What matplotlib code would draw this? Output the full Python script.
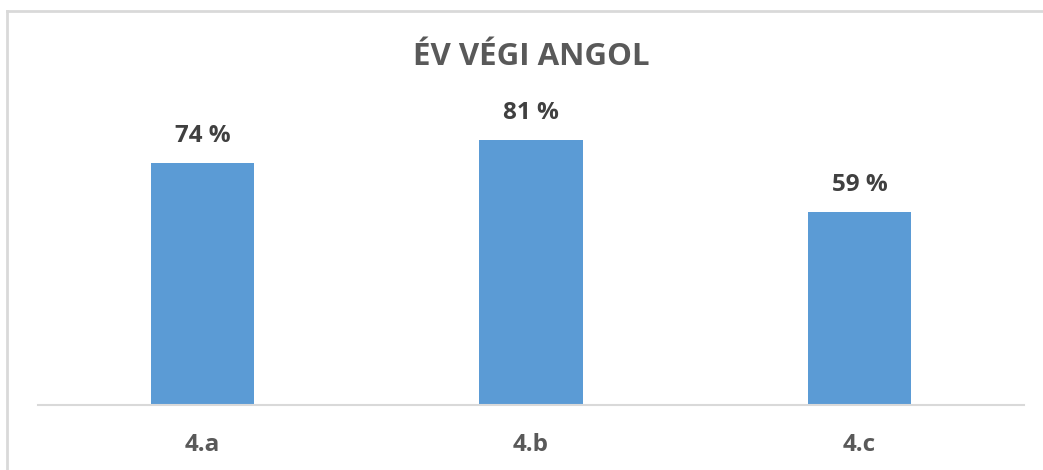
import matplotlib
matplotlib.use("Agg")
import matplotlib.pyplot as plt
from matplotlib.lines import Line2D

categories = ["4.a", "4.b", "4.c"]
values = [74, 81, 59]
title = "ÉV VÉGI ANGOL"

W, H = 1043, 470
fig = plt.figure(figsize=(W / 100, H / 100), dpi=100)
plt.rcParams['font.family'] = ['Open Sans', 'DejaVu Sans']

# outer border (top and left visible)
fig.add_artist(Line2D([7 / W, 7 / W], [0, 1 - 11 / H], color="#D9D9D9", lw=2, transform=fig.transFigure))
fig.add_artist(Line2D([7 / W, 1], [1 - 11 / H, 1 - 11 / H], color="#D9D9D9", lw=2, transform=fig.transFigure))

ax = fig.add_axes([38 / W, (H - 405) / H, 986 / W, (405 - 78) / H])
x = range(len(categories))
bars = ax.bar(x, values, width=0.315, color="#5B9BD5", zorder=2)
ax.set_xlim(-0.5, len(categories) - 0.5)
ax.set_ylim(0, 100)

for xi, v in zip(x, values):
    ax.annotate(f"{v} %", (xi, v), xytext=(0, 11), textcoords="offset points",
                ha="center", va="bottom", fontsize=17.5, fontweight="bold", color="#404040")

for s in ["top", "right", "left"]:
    ax.spines[s].set_visible(False)
ax.spines["bottom"].set_color("#D9D9D9")
ax.spines["bottom"].set_linewidth(1.5)
ax.set_yticks([])
ax.set_xticks(list(x))
ax.set_xticklabels(categories, fontsize=17.5, fontweight="bold", color="#595959")
ax.tick_params(axis="x", length=0, pad=20)

fig.text(531 / W, 1 - 57 / H, title, ha="center", va="center", fontsize=22.5,
         fontweight="bold", color="#595959")

fig.savefig("out.png", dpi=100, facecolor="white")
